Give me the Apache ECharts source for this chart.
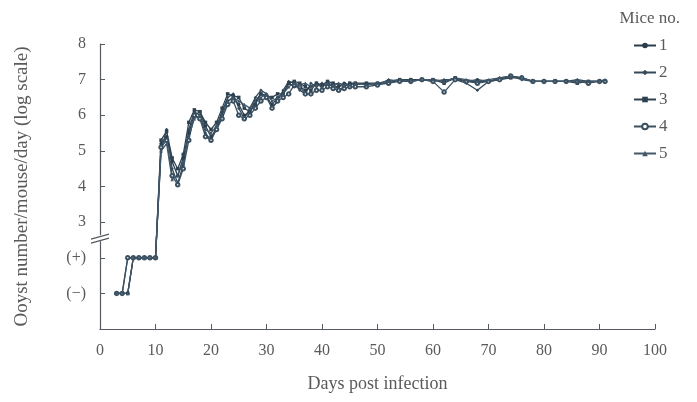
<!DOCTYPE html>
<html>
<head>
<meta charset="utf-8">
<script src="https://cdn.jsdelivr.net/npm/echarts@6/dist/echarts.min.js"></script>
<style>
  html, body { margin: 0; padding: 0; background: #fff; }
  #main { width: 697px; height: 402px; }
</style>
</head>
<body>
<div id="main"></div>
<script>
// 采样天数
var days = [3, 4, 5, 6, 7, 8, 9, 10,
    11, 12, 13, 14, 15, 16, 17, 18, 19, 20, 21, 22, 23, 24, 25, 26, 27, 28,
    29, 30, 31, 32, 33, 34, 35, 36, 37, 38, 39, 40, 41, 42, 43, 44, 45, 46,
    48, 50, 52, 54, 56, 58, 60, 62, 64, 66, 68, 70, 72, 74, 76, 78, 80, 82,
    84, 86, 88, 90, 91]

// 1 = (−), 2 = (+), 3..8 = log10 oocysts
var mouse1 = [1, 1, 1, 2, 2, 2, 2, 2,
    5.2, 5.4, 4.7, 4.3, 4.8, 5.5, 6.0, 6.1, 5.7, 5.4, 5.6, 6.0, 6.4, 6.5, 6.3, 6.0, 6.1, 6.4,
    6.6, 6.5, 6.3, 6.5, 6.6, 6.9, 6.8, 6.8, 6.7, 6.8, 6.9, 6.8, 6.9, 6.8, 6.8, 6.9, 6.85, 6.9,
    6.85, 6.9, 6.95, 7.0, 6.95, 7.0, 7.0, 6.95, 7.05, 6.95, 7.0, 6.95, 7.0, 7.1, 7.05, 6.95, 6.95, 6.95,
    6.95, 6.95, 6.95, 6.95, 6.95]
var mouse2 = [1, 1, 2, 2, 2, 2, 2, 2,
    5.0, 5.6, 4.5, 4.1, 4.6, 5.6, 6.1, 6.0, 5.5, 5.3, 5.7, 6.1, 6.5, 6.6, 6.2, 5.9, 6.2, 6.5,
    6.7, 6.6, 6.2, 6.4, 6.7, 6.95, 6.9, 6.7, 6.6, 6.9, 6.8, 6.9, 6.8, 6.9, 6.7, 6.8, 6.9, 6.85,
    6.9, 6.85, 7.0, 6.95, 7.0, 7.0, 6.95, 7.0, 7.0, 6.9, 6.7, 6.95, 7.05, 7.1, 7.0, 6.95, 6.95, 6.95,
    6.95, 7.0, 6.95, 6.95, 6.95]
var mouse3 = [1, 1, 1, 2, 2, 2, 2, 2,
    5.3, 5.55, 4.8, 4.5, 4.9, 5.8, 6.15, 6.1, 5.8, 5.6, 5.8, 6.2, 6.6, 6.55, 6.5, 6.2, 6.1, 6.3,
    6.6, 6.55, 6.5, 6.6, 6.6, 6.9, 6.95, 6.9, 6.8, 6.7, 6.9, 6.85, 6.95, 6.9, 6.85, 6.8, 6.9, 6.9,
    6.9, 6.9, 6.9, 7.0, 7.0, 7.0, 7.0, 6.9, 7.05, 6.95, 6.95, 6.95, 7.0, 7.05, 7.05, 6.95, 6.95, 6.95,
    6.95, 6.9, 6.95, 6.95, 6.95]
var mouse4 = [1, 1, 2, 2, 2, 2, 2, 2,
    5.1, 5.3, 4.3, 4.05, 4.5, 5.3, 6.0, 5.9, 5.4, 5.3, 5.6, 5.9, 6.3, 6.4, 6.0, 5.9, 6.0, 6.2,
    6.4, 6.5, 6.2, 6.4, 6.5, 6.6, 6.85, 6.8, 6.6, 6.6, 6.7, 6.7, 6.8, 6.75, 6.7, 6.75, 6.8, 6.8,
    6.8, 6.85, 6.9, 6.95, 6.95, 7.0, 6.95, 6.65, 7.0, 6.95, 6.9, 6.95, 7.0, 7.1, 7.05, 6.95, 6.95, 6.95,
    6.95, 6.95, 6.9, 6.95, 6.95]
var mouse5 = [1, 1, 1, 2, 2, 2, 2, 2,
    5.0, 5.2, 4.2, 4.3, 4.7, 5.4, 5.9, 6.0, 5.6, 5.5, 5.7, 6.0, 6.4, 6.5, 6.4, 6.3, 6.2, 6.4,
    6.5, 6.6, 6.4, 6.5, 6.6, 6.8, 6.9, 6.85, 6.9, 6.8, 6.85, 6.8, 6.9, 6.85, 6.9, 6.85, 6.85, 6.9,
    6.85, 6.9, 6.95, 7.0, 6.95, 7.0, 7.0, 6.95, 7.05, 7.0, 6.95, 7.0, 7.05, 7.1, 7.05, 6.95, 6.95, 6.95,
    6.95, 6.95, 6.95, 6.95, 7.0]

var miceNames = ['1', '2', '3', '4', '5']
var miceData = [mouse1, mouse2, mouse3, mouse4, mouse5]
var miceSymbols = ['circle', 'diamond', 'rect', 'emptyCircle', 'triangle']
var miceColors = ['#2b3d4b', '#33495a', '#2e4250', '#3a5060', '#42586a']

var yLabels = { 1: '(\u2212)', 2: '(+)', 3: '3', 4: '4', 5: '5', 6: '6', 7: '7', 8: '8' }

var serif = '"Liberation Serif", "DejaVu Serif", serif'
var textGray = '#5a5a5a'
var axisGray = '#555b60'

var myChart = echarts.init(document.getElementById('main'))

var series = miceNames.map(function (name, i) {
    return {
        name: name,
        type: 'line',
        data: days.map(function (d, j) { return [d, miceData[i][j]] }),
        symbol: miceSymbols[i],
        symbolSize: 3.5,
        showSymbol: true,
        lineStyle: { width: 1.3, color: miceColors[i] },
        itemStyle: { color: miceColors[i] }
    }
})

var option = {
    animation: false,
    backgroundColor: '#fff',
    title: {
        text: 'Mice no.',
        right: 12,
        top: 5,
        textStyle: { fontFamily: serif, fontSize: 17, fontWeight: 'normal', color: textGray }
    },
    legend: {
        orient: 'vertical',
        left: 628,
        top: 32,
        itemWidth: 22,
        itemHeight: 7,
        itemGap: 10,
        data: miceNames,
        textStyle: { fontFamily: serif, fontSize: 17, color: textGray, padding: [0, 0, 0, -2] }
    },
    grid: {
        left: 100,
        right: 42,
        top: 44,
        bottom: 73,
        containLabel: false
    },
    xAxis: {
        type: 'value',
        min: 0,
        max: 100,
        interval: 10,
        name: 'Days post infection',
        nameLocation: 'middle',
        nameGap: 46,
        nameTextStyle: { fontFamily: serif, fontSize: 18, color: textGray },
        axisLine: { lineStyle: { color: axisGray, width: 1.2 } },
        axisTick: { inside: true, length: 5, lineStyle: { color: axisGray } },
        axisLabel: { fontFamily: serif, fontSize: 16, color: textGray, margin: 14 },
        splitLine: { show: false }
    },
    yAxis: {
        type: 'value',
        min: 0,
        max: 8,
        interval: 1,
        name: 'Ooyst number/mouse/day (log scale)',
        nameLocation: 'middle',
        nameGap: 68,
        nameRotate: 90,
        nameTextStyle: { fontFamily: serif, fontSize: 19, color: textGray },
        axisLine: { show: true, lineStyle: { color: axisGray, width: 1.2 } },
        axisTick: { show: true, inside: true, length: 5, lineStyle: { color: axisGray } },
        axisLabel: {
            fontFamily: serif, fontSize: 16, color: textGray, margin: 14,
            formatter: function (v) { return yLabels[v] || '' }
        },
        splitLine: { show: false }
    },
    series: series
}

myChart.setOption(option)

// 断轴标记 (between (+) and 3)
var brk = myChart.convertToPixel({ gridIndex: 0 }, [0, 2.55])
myChart.setOption({
    graphic: [
        { type: 'rect', shape: { x: brk[0] - 3, y: brk[1] - 3, width: 6, height: 6 }, style: { fill: '#fff' }, z: 100 },
        { type: 'line', shape: { x1: brk[0] - 9, y1: brk[1] + 1, x2: brk[0] + 9, y2: brk[1] - 4 }, style: { stroke: axisGray, lineWidth: 1.2 }, z: 101 },
        { type: 'line', shape: { x1: brk[0] - 9, y1: brk[1] + 5, x2: brk[0] + 9, y2: brk[1] }, style: { stroke: axisGray, lineWidth: 1.2 }, z: 101 }
    ]
})
</script>
</body>
</html>
